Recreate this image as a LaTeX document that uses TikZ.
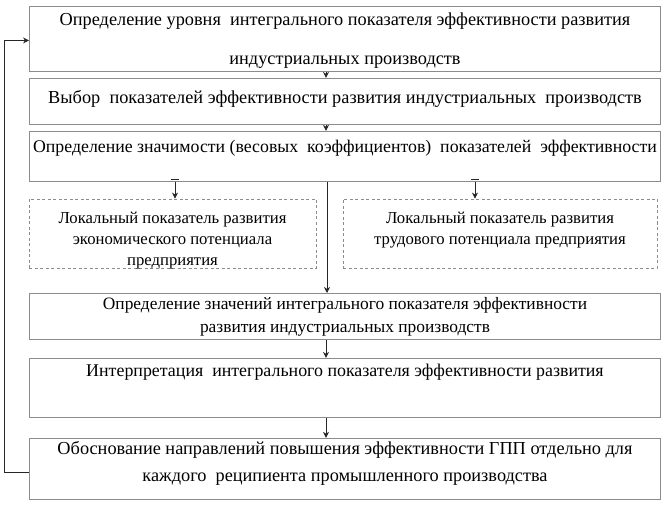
\documentclass[tikz,border=0pt]{standalone}
\usepackage{fontspec}
\setmainfont{Liberation Serif}
\usetikzlibrary{positioning,arrows.meta}
\definecolor{boxgray}{HTML}{8C8C8C}
\newcommand{\lines}[1]{\begin{tabular}[t]{@{}c@{}}#1\end{tabular}}
\tikzset{
  >={Stealth[length=6pt,width=6pt]},
  stepbox/.style={draw=boxgray,line width=0.9pt,minimum width=631pt,
    inner xsep=2pt,inner ysep=0pt,
    font=\fontsize{18.3}{23}\selectfont},
  localbox/.style={draw=boxgray,dash pattern=on 3pt off 2.5pt,line width=0.9pt,
    inner sep=0pt,minimum height=69pt,
    font=\fontsize{16.7}{21}\selectfont},
  flow/.style={->,line width=0.7pt,black!85},
  tickbar/.style={line width=0.7pt,black!85},
}

\begin{document}
\begin{tikzpicture}[x=1pt,y=-1pt]
  \useasboundingbox (0,0) rectangle (670,508);
  % chain of steps
  \node[stepbox,anchor=north,text height=19pt,text depth=46pt] (def) at (345,6)
    {\lines{Определение уровня \ интегрального показателя эффективности развития\\[16pt]
     индустриальных производств}};
  \node[stepbox,below=6pt of def,text height=25pt,text depth=21pt] (sel)
    {Выбор \ показателей эффективности развития индустриальных \ производств};
  \node[stepbox,below=6pt of sel,text height=21pt,text depth=29pt,
    font=\fontsize{17.8}{23}\selectfont] (wgt)
    {Определение значимости (весовых \ коэффициентов) \ показателей \ эффективности};
  % local indicators
  \node[localbox,minimum width=287pt,text height=24pt,text depth=45pt] (econ) at (172.5,233.5)
    {\lines{Локальный показатель развития\\[0.5pt] экономического потенциала\\[0.5pt] предприятия}};
  \node[localbox,minimum width=314pt,text height=24pt,text depth=45pt] (labr) at (500,233.5)
    {\lines{Локальный показатель развития\\ трудового потенциала предприятия}};
  \node[stepbox,anchor=north,text height=16pt,text depth=30pt,
    font=\fontsize{17.4}{23}\selectfont] (val) at (345,293)
    {\lines{Определение значений интегрального показателя эффективности\\
     развития индустриальных производств}};
  \node[stepbox,below=18pt of val,text height=18pt,text depth=41pt,
    font=\fontsize{17.9}{23}\selectfont] (intp)
    {Интерпретация \ интегрального показателя эффективности развития};
  \node[stepbox,below=20pt of intp,text height=16pt,text depth=45pt] (just)
    {\lines{Обоснование направлений повышения эффективности ГПП отдельно для\\[4pt]
     каждого \ реципиента промышленного производства}};
  % arrows
  \draw[flow] ([xshift=-19pt]def.south) -- ([xshift=-19pt]sel.north);
  \draw[flow] ([xshift=-19pt]sel.south) -- ([xshift=-19pt]wgt.north);
  \coordinate (econin) at ([xshift=2.5pt]econ.north);
  \coordinate (labrin) at ([xshift=-25pt]labr.north);
  \foreach \side in {econin,labrin}{
    \draw[flow] (\side |- wgt.south) -- (\side);
    \draw[tickbar] ([shift={(-4pt,2.5pt)}]\side |- wgt.south) -- ++(8pt,0);
  }
  \draw[flow] ([xshift=-18pt]wgt.south) -- ([xshift=-18pt]val.north);
  \draw[flow] ([xshift=-19pt]val.south) -- ([xshift=-19pt]intp.north);
  \draw[flow] ([xshift=-19pt]intp.south) -- ([xshift=-19pt]just.north);
  % feedback loop
  \coordinate (back) at (4,0);
  \draw[flow] ([yshift=-4pt]just.west) -- ([yshift=-4pt]just.west -| back)
    |- ([yshift=-1.5pt]def.west);
\end{tikzpicture}
\end{document}
